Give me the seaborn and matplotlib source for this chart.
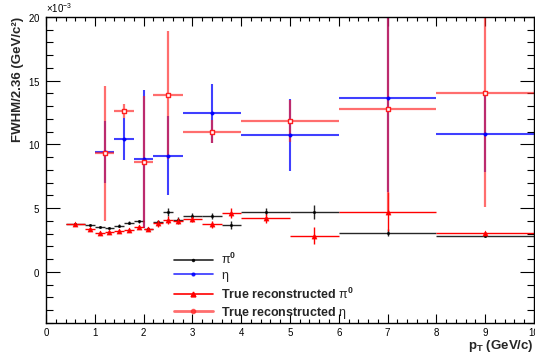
import numpy as np
import pandas as pd
import matplotlib
matplotlib.use("Agg")
import matplotlib.pyplot as plt
import seaborn as sns
from matplotlib.lines import Line2D
from matplotlib.ticker import MultipleLocator, ScalarFormatter

# pT bin edges (GeV/c) and peak widths FWHM/2.36 (GeV/c^2)
pi0_edges = [0.4, 0.8, 1.0, 1.2, 1.4, 1.6, 1.8, 2.0, 2.2, 2.4, 2.6, 2.8,
             3.2, 3.6, 4.0, 5.0, 6.0, 8.0, 10.0]
pi0_width = [0.00374, 0.00366, 0.00355, 0.00342, 0.00363, 0.00387, 0.00397,
             0.00340, 0.00395, 0.00468, 0.00410, 0.00442, 0.00438, 0.00370,
             0.00473, 0.00468, 0.00308, 0.00285]
pi0_err = [0.00010, 0.00008, 0.00008, 0.00009, 0.00010, 0.00011, 0.00012,
           0.00013, 0.00015, 0.00030, 0.00020, 0.00020, 0.00022, 0.00030,
           0.00030, 0.00055, 0.00025, 0.00012]
true_pi0_width = [0.00374, 0.00335, 0.00308, 0.00316, 0.00324, 0.00329,
                  0.00350, 0.00337, 0.00380, 0.00408, 0.00400, 0.00413,
                  0.00372, 0.00460, 0.00420, 0.00285, 0.00473, 0.00303]
true_pi0_err = [0.00008, 0.00012, 0.00012, 0.00010, 0.00011, 0.00012,
                0.00014, 0.00015, 0.00025, 0.00030, 0.00022, 0.00025,
                0.00025, 0.00040, 0.00035, 0.00065, 0.00150, 0.00012]

eta_edges = [1.0, 1.4, 1.8, 2.2, 2.8, 4.0, 6.0, 8.0, 10.0]
eta_width = [0.00940, 0.01040, 0.00886, 0.00912, 0.01245, 0.01075,
             0.01367, 0.01082]
eta_err = [0.00240, 0.00165, 0.00540, 0.00308, 0.00230, 0.00283,
           0.00740, 0.00300]
true_eta_width = [0.00931, 0.01263, 0.00865, 0.01388, 0.01100, 0.01184,
                  0.01278, 0.01400]
true_eta_err = [0.00530, 0.00055, 0.00515, 0.00505, 0.00090, 0.00165,
                0.00800, 0.00890]

labels = [r"$\mathrm{\pi}^{\mathbf{0}}$", r"$\mathrm{\eta}$",
          r"True reconstructed $\mathrm{\pi}^{\mathbf{0}}$",
          r"True reconstructed $\mathrm{\eta}$"]

sns.set_theme(style="ticks")
plt.rcParams["font.family"] = ["Liberation Sans", "DejaVu Sans"]
plt.rcParams["mathtext.fontset"] = "custom"
plt.rcParams["mathtext.rm"] = "Liberation Sans"
plt.rcParams["mathtext.it"] = "Liberation Sans:italic"
plt.rcParams["mathtext.bf"] = "Liberation Sans:bold"


def bins(edges):
    e = np.asarray(edges)
    return (e[:-1] + e[1:]) / 2, (e[1:] - e[:-1]) / 2


pi0_x, pi0_xerr = bins(pi0_edges)
eta_x, eta_xerr = bins(eta_edges)

series = [
    # x, half-width, y, yerr, colour, alpha, line width, marker, marker size, open
    (eta_x, eta_xerr, eta_width, eta_err, "#0000ff", 0.75, 1.5, "o", 6, False),
    (pi0_x, pi0_xerr, pi0_width, pi0_err, "#000000", 0.85, 1.0, "o", 3, False),
    (pi0_x, pi0_xerr, true_pi0_width, true_pi0_err, "#ff0000", 1.0, 1.0, "^", 14, False),
    (eta_x, eta_xerr, true_eta_width, true_eta_err, "#ff2020", 0.65, 1.6, "s", 10, True),
]

fig, ax = plt.subplots(figsize=(5.35, 3.54), dpi=100)
fig.subplots_adjust(left=0.086, right=0.998, bottom=0.088, top=0.952)

for x, xe, y, ye, col, alpha, lw, mk, ms, hollow in series:
    ax.errorbar(x, y, xerr=xe, yerr=ye, fmt="none", ecolor=col,
                elinewidth=lw, alpha=alpha, capsize=0)
    df = pd.DataFrame({"pT": x, "width": y})
    if hollow:
        sns.scatterplot(data=df, x="pT", y="width", ax=ax, marker=mk, s=ms,
                        facecolors="white", edgecolor=col, linewidth=1.0,
                        legend=False, zorder=3)
    else:
        sns.scatterplot(data=df, x="pT", y="width", ax=ax, marker=mk, s=ms,
                        color=col, edgecolor=col, linewidth=0.3,
                        legend=False, zorder=3)

ax.set_xlim(0, 10)
ax.set_ylim(-0.004, 0.020)

ax.xaxis.set_major_locator(MultipleLocator(1))
ax.xaxis.set_minor_locator(MultipleLocator(0.2))
ax.yaxis.set_major_locator(MultipleLocator(0.005))
ax.yaxis.set_minor_locator(MultipleLocator(0.001))
fmt = ScalarFormatter(useMathText=True)
fmt.set_powerlimits((-3, -3))
ax.yaxis.set_major_formatter(fmt)
ax.yaxis.get_offset_text().set_fontsize(7)

ax.tick_params(which="both", direction="in", top=True, right=True,
               labelsize=7, width=0.8, colors="black")
ax.tick_params(axis="x", which="major", length=6.5, pad=4)
ax.tick_params(axis="x", which="minor", length=3.2)
ax.tick_params(axis="y", which="major", length=10, pad=4)
ax.tick_params(axis="y", which="minor", length=5)
for sp in ax.spines.values():
    sp.set_linewidth(1.0)
    sp.set_color("black")

ax.set_ylabel("FWHM/2.36 (GeV/c²)", fontsize=9.5, fontweight="bold", loc="top")
ax.yaxis.set_label_coords(-0.046, 1.0)
ax.set_xlabel(r"p$_{\mathbf{T}}$ (GeV/c)", fontsize=9.5, fontweight="bold", loc="right")
ax.xaxis.set_label_coords(0.999, -0.048)

handles = [
    Line2D([], [], color="#000000", alpha=0.85, lw=1.2, marker="o", ms=1.5),
    Line2D([], [], color="#0000ff", alpha=0.8, lw=1.2, marker="o", ms=2),
    Line2D([], [], color="#ff0000", lw=1.2, marker="^", ms=3.5),
    Line2D([], [], color="#ff2020", alpha=0.65, lw=2.0, marker="o", ms=3,
           markerfacecolor="#ff2020"),
]
leg = ax.legend(handles, labels, loc="upper left", bbox_to_anchor=(0.262, 0.232),
                frameon=False, borderpad=0, borderaxespad=0, handlelength=3.1,
                handletextpad=0.7, labelspacing=0.22,
                prop={"weight": "bold", "size": 9})

fig.savefig("out.png", dpi=100)
